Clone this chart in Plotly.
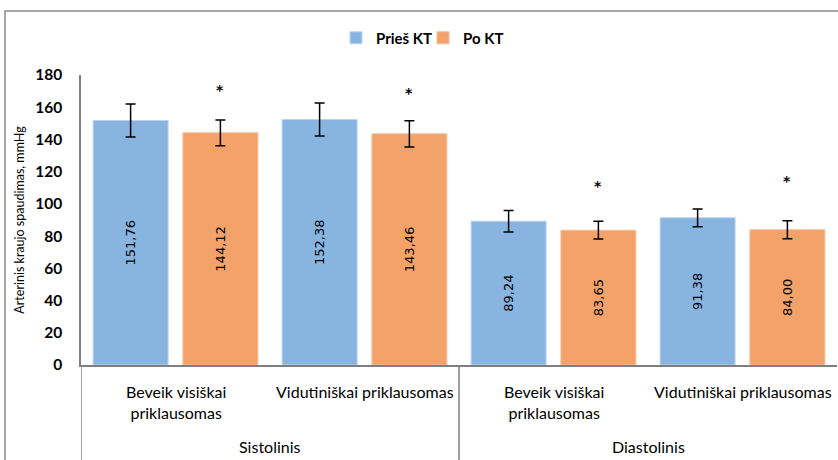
import plotly.graph_objects as go

groups = ["Sistolinis", "Sistolinis", "Diastolinis", "Diastolinis"]
subcats = ["Beveik visiškai<br>priklausomas", "Vidutiniškai priklausomas",
           "Beveik visiškai<br>priklausomas", "Vidutiniškai priklausomas"]
group_names = ["Sistolinis", "Diastolinis"]
pries = [151.76, 152.38, 89.24, 91.38]
po = [144.12, 143.46, 83.65, 84.00]
pries_err = [10.2, 10.2, 6.7, 5.5]
po_err = [8.0, 8.1, 5.5, 5.6]
asterisk_y = [170.7, 168.8, 111.0, 114.0]

BLUE = "#88B4E0"
ORANGE = "#F3A26A"
FONT = "Lato"
AXC = "#7F7F7F"


def fmt(v):
    return f"{v:.2f}".replace(".", ",")


x = [groups, subcats]

fig = go.Figure()
fig.add_trace(go.Bar(
    name="Prieš KT", x=x, y=pries, legend="legend",
    marker=dict(color=BLUE, line=dict(color="#B9D3EE", width=1)),
    error_y=dict(type="data", array=pries_err, color="black", thickness=1.5, width=5),
    text=[fmt(v) for v in pries], textposition="inside", insidetextanchor="middle",
    textangle=-90, textfont=dict(family="DejaVu Sans", size=13, color="black"),
))
fig.add_trace(go.Bar(
    name="Po KT", x=x, y=po, legend="legend2",
    marker=dict(color=ORANGE, line=dict(color="#F6BE98", width=1)),
    error_y=dict(type="data", array=po_err, color="black", thickness=1.5, width=5),
    text=[fmt(v) for v in po], textposition="inside", insidetextanchor="middle",
    textangle=-90, textfont=dict(family="DejaVu Sans", size=13, color="black"),
))

for i, yv in enumerate(asterisk_y):
    fig.add_annotation(x=i, y=yv, text="<b>*</b>", showarrow=False, xshift=44.5,
                       font=dict(family="DejaVu Sans", size=14, color="black"))

W, H = 838, 460
L, R, T, B = 81, 1, 75, 95
pw, ph = W - L - R, H - T - B


def px(xp):
    return (xp - L) / pw


def py(yp):
    return (H - B - yp) / ph


# category labels (inner level)
for i, s in enumerate(subcats):
    fig.add_annotation(x=i, xref="x", y=py(380), yref="paper", yanchor="top",
                       text=s, showarrow=False, align="center",
                       font=dict(family=FONT, size=16, color="black"))
# group labels (outer level)
for g, name in enumerate(group_names):
    fig.add_annotation(x=2 * g + 0.5, xref="x", y=py(446), yref="paper", yanchor="middle",
                       text=name, showarrow=False,
                       font=dict(family=FONT, size=16, color="black"))
# group dividers
for xd in [-0.5, 1.5]:
    fig.add_shape(type="line", xref="x", yref="paper", x0=xd, x1=xd,
                  y0=py(365), y1=py(470), line=dict(color=AXC, width=1.5))

fig.add_shape(type="rect", xref="paper", yref="paper",
              x0=px(5), x1=px(860), y0=py(500), y1=py(11),
              line=dict(color="#8C8C8C", width=1.5), layer="below")

legend_common = dict(orientation="h", xanchor="left", y=py(38), yanchor="middle",
                     font=dict(family=FONT, size=15, weight="bold"), bgcolor="rgba(0,0,0,0)")

fig.update_layout(
    width=W, height=H,
    margin=dict(l=L, r=R, t=T, b=B),
    paper_bgcolor="white", plot_bgcolor="white",
    barmode="group", bargap=0.05, bargroupgap=0.165,
    font=dict(family=FONT, size=14, color="black"),
    showlegend=True,
    legend=dict(x=px(336), **legend_common),
    legend2=dict(x=px(423), **legend_common),
    xaxis=dict(type="multicategory", showline=True, linecolor=AXC, linewidth=1.5,
               showgrid=False, ticks="", showdividers=False, showticklabels=False,
               automargin=False, range=[-0.5, 3.5]),
    yaxis=dict(range=[0, 180], dtick=20, showgrid=False, showline=True,
               linecolor=AXC, linewidth=1.5, ticks="", ticklabelstandoff=14,
               automargin=False,
               tickfont=dict(family=FONT, size=15.5, weight="bold"),
               title=dict(text="Arterinis kraujo spaudimas, mmHg",
                          font=dict(family=FONT, size=12.5), standoff=8)),
)

fig.write_html("out.html", config={"displayModeBar": False},
               post_script="document.body.style.margin='0';")
